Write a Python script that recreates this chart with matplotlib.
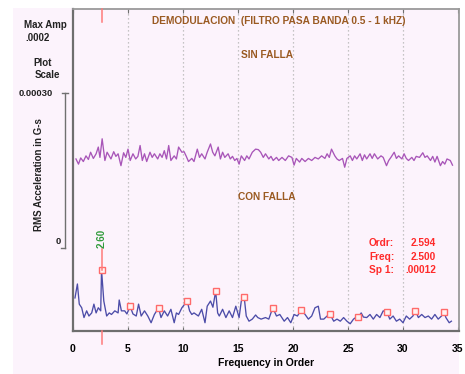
import matplotlib
matplotlib.use("Agg")
import matplotlib.pyplot as plt
from matplotlib.patches import Rectangle
from matplotlib.lines import Line2D

plt.rcParams['font.family'] = ['Liberation Sans', 'DejaVu Sans']

W, H = 465, 374

# ---------------- data ----------------
# SIN FALLA trace (order, amplitude in micro G-s above its plot offset)
order_sin = [0.27, 0.5, 0.7, 0.94, 1.18, 1.4, 1.6, 1.85, 2.1, 2.3,
             2.45, 2.65, 2.9, 3.1, 3.45, 3.7, 3.9, 4.1, 4.36, 4.6,
             4.8, 5.0, 5.2, 5.45, 5.7, 5.9, 6.1, 6.3, 6.5, 6.7,
             7.0, 7.2, 7.4, 7.7, 7.9, 8.1, 8.3, 8.5, 8.7, 8.9,
             9.2, 9.4, 9.6, 9.9, 10.1, 10.3, 10.5, 10.8, 11.0, 11.3,
             11.5, 11.7, 12.0, 12.2, 12.5, 12.7, 12.9, 13.2, 13.4, 13.6,
             13.8, 14.1, 14.3, 14.5, 14.7, 14.9, 15.1, 15.3, 15.6, 15.8,
             16.0, 16.3, 16.6, 16.85, 17.06, 17.3, 17.5, 17.8, 18.0, 18.2,
             18.5, 18.7, 19.0, 19.3, 19.6, 19.9, 20.1, 20.3, 20.6, 20.8,
             21.1, 21.4, 21.7, 22.0, 22.3, 22.6, 22.9, 23.1, 23.3, 23.5,
             23.8, 24.0, 24.2, 24.5, 24.7, 24.9, 25.2, 25.4, 25.6, 25.8,
             26.1, 26.3, 26.5, 26.7, 27.0, 27.2, 27.4, 27.7, 28.0, 28.2,
             28.5, 28.7, 28.9, 29.2, 29.4, 29.6, 29.9, 30.1, 30.3, 30.5,
             30.8, 31.0, 31.2, 31.5, 31.8, 32.0, 32.2, 32.5, 32.7, 32.9,
             33.1, 33.4, 33.6, 33.8, 34.0, 34.3, 34.5]
amp_sin_ug = [33, 23, 35, 28, 39, 32, 46, 34, 43, 56,
              36, 72, 30, 46, 33, 47, 38, 43, 20, 45,
              36, 52, 30, 43, 33, 38, 59, 30, 43, 28,
              46, 36, 43, 33, 43, 36, 49, 33, 59, 30,
              39, 33, 56, 46, 47, 38, 28, 34, 28, 52,
              36, 43, 33, 46, 62, 46, 39, 56, 33, 46,
              36, 43, 33, 38, 30, 34, 23, 39, 30, 39,
              33, 46, 52, 51, 46, 36, 43, 33, 38, 30,
              36, 30, 36, 30, 39, 36, 21, 34, 27, 34,
              28, 34, 30, 36, 33, 39, 34, 43, 36, 52,
              39, 33, 30, 34, 17, 34, 39, 30, 39, 33,
              43, 30, 41, 33, 43, 34, 43, 33, 39, 36,
              20, 30, 36, 46, 34, 39, 33, 43, 34, 30,
              36, 30, 38, 36, 45, 36, 39, 30, 38, 27,
              38, 20, 28, 23, 33, 30, 21]
sin_offset = 0.00030

# CON FALLA trace (order, amplitude in micro G-s)
order_con = [0.18, 0.4, 0.57, 0.79, 1.0, 1.24, 1.45, 1.7, 1.9, 2.1,
             2.3, 2.52, 2.594, 2.8, 3.06, 3.3, 3.5, 3.8, 4.1, 4.2,
             4.4, 4.7, 4.9, 5.19, 5.45, 5.75, 5.96, 6.2, 6.5, 6.8,
             7.1, 7.4, 7.78, 8.0, 8.3, 8.6, 8.9, 9.2, 9.4, 9.6,
             9.9, 10.38, 10.6, 10.8, 11.0, 11.4, 11.7, 12.0, 12.2, 12.5,
             12.72, 12.97, 13.15, 13.3, 13.6, 13.9, 14.2, 14.5, 14.8, 15.1,
             15.3, 15.56, 15.75, 16.0, 16.3, 16.6, 16.8, 17.1, 17.5, 17.8,
             18.0, 18.16, 18.5, 18.8, 19.2, 19.5, 19.8, 20.1, 20.4, 20.75,
             21.1, 21.4, 21.7, 22.0, 22.3, 22.5, 22.8, 23.1, 23.35, 23.7,
             24.0, 24.3, 24.6, 24.9, 25.2, 25.5, 25.7, 25.94, 26.2, 26.4,
             26.7, 27.0, 27.3, 27.6, 27.9, 28.2, 28.53, 28.8, 29.1, 29.4,
             29.7, 30.0, 30.3, 30.6, 30.9, 31.13, 31.4, 31.7, 32.0, 32.3,
             32.6, 32.9, 33.2, 33.5, 33.72, 33.9, 34.2, 34.4]
amp_con_ug = [64, 91, 52, 45, 26, 39, 29, 35, 52, 35,
              45, 39, 118, 58, 29, 35, 32, 39, 35, 60,
              39, 39, 33, 48, 33, 29, 52, 29, 39, 29,
              16, 32, 45, 26, 39, 29, 42, 16, 35, 32,
              45, 58, 39, 32, 35, 29, 42, 16, 48, 58,
              46, 77, 35, 29, 42, 26, 39, 26, 48, 26,
              58, 66, 29, 19, 23, 31, 26, 23, 26, 23,
              35, 45, 29, 32, 19, 26, 16, 32, 29, 41,
              32, 23, 29, 45, 48, 23, 23, 29, 33, 19,
              23, 19, 26, 19, 14, 23, 26, 27, 35, 27,
              26, 32, 23, 32, 26, 39, 37, 23, 29, 19,
              23, 16, 29, 23, 29, 39, 26, 32, 26, 29,
              23, 32, 23, 29, 37, 26, 16, 19]

# harmonic markers of 2.594 order
harm_order = [2.594, 5.19, 7.78, 10.38, 12.97, 15.56, 18.16, 20.75,
              23.35, 25.94, 28.53, 31.13, 33.72]
harm_amp_ug = [118, 48, 45, 58, 77, 66, 45, 41, 33, 27, 37, 39, 37]

cursor_order = 2.594
cursor_label = "2.60"
xticks = [0, 5, 10, 15, 20, 25, 30, 35]
xtick_labels = ["0", "5", "10", "15", "20", "25", "30", "35"]
readout_names = ["Ordr:", "Freq:", "Sp 1:"]
readout_values = ["2.594", "2.500", ".00012"]

# ---------------- figure ----------------
PINK = '#fcf3fc'
fig = plt.figure(figsize=(W / 100, H / 100), dpi=100, facecolor='white')


def fxy(px, py):
    return px / W, 1 - py / H


bg = Rectangle(fxy(13, 374), (459 - 13) / W, (374 - 8) / H,
               transform=fig.transFigure, facecolor=PINK,
               edgecolor='none', zorder=-10)
fig.patches.append(bg)

ax_l, ax_r, ax_t, ax_b = 73, 459, 9, 331
ax = fig.add_axes([ax_l / W, 1 - ax_b / H, (ax_r - ax_l) / W, (ax_b - ax_t) / H])
ax.set_zorder(1)
ax.set_facecolor(PINK)

upp = 0.00030 / 155.0  # G-s per pixel
ax.set_xlim(0, (ax_r - ax_l) / 11.0)
ax.set_ylim(0, (ax_b - ax_t) * upp)

sin_vals = [sin_offset + a * 1e-6 for a in amp_sin_ug]
con_vals = [a * 1e-6 for a in amp_con_ug]
harm_vals = [a * 1e-6 for a in harm_amp_ug]

ax.plot(order_sin, sin_vals, color='#a855b8', lw=0.95, zorder=3)
ax.plot(order_con, con_vals, color='#4c4ca8', lw=0.95, zorder=3)
ax.plot(harm_order, harm_vals, linestyle='none', marker='s', ms=4.3,
        mfc='#fff2f2', mec='#ff6a6a', mew=1.0, zorder=4)

# grid
for xv in xticks[1:-1]:
    ax.axvline(xv, color='#b4b4b4', lw=0.9, linestyle=(0, (1, 2.2)), zorder=1)

ax.set_xticks(xticks)
ax.set_xticklabels(xtick_labels)
ax.set_yticks([])
ax.tick_params(axis='x', direction='in', length=3, color='#707070',
               labelsize=7.5, pad=9, top=True)
for lab in ax.get_xticklabels():
    lab.set_fontweight('bold')
ax.set_xlabel("Frequency in Order", fontsize=7.5, fontweight='bold', labelpad=3)

for s in ['left', 'bottom']:
    ax.spines[s].set_color('#6e6e6e')
    ax.spines[s].set_linewidth(1.6)
for s in ['top', 'right']:
    ax.spines[s].set_color('#9a9a9a')
    ax.spines[s].set_linewidth(1.3)

# cursor
top_y = ax.get_ylim()[1]
ax.plot([cursor_order, cursor_order], [top_y, (ax_b - 22) * upp],
        color='#ff7a7a', lw=1.1, zorder=5, clip_on=False)
ax.plot([cursor_order, cursor_order], [(ax_b - 249) * upp, harm_vals[0]],
        color='#ff7a7a', lw=1.1, zorder=5)
ax.plot([cursor_order, cursor_order], [0, -13 * upp],
        color='#ff7a7a', lw=1.1, zorder=5, clip_on=False)
ax.text(cursor_order, (ax_b - 238) * upp, cursor_label, rotation=90,
        ha='center', va='center', fontsize=7, fontweight='bold',
        color='#2f9a3a', zorder=6)

# titles inside
BROWN = '#9a5a22'
fig.text(*fxy(279, 21), "DEMODULACION  (FILTRO PASA BANDA 0.5 - 1 kHZ)",
         ha='center', va='center', fontsize=7.3, fontweight='bold', color=BROWN,
         zorder=5)
fig.text(*fxy(267, 55), "SIN FALLA", ha='center', va='center',
         fontsize=7.3, fontweight='bold', color=BROWN, zorder=5)
fig.text(*fxy(267, 197), "CON FALLA", ha='center', va='center',
         fontsize=7.3, fontweight='bold', color=BROWN, zorder=5)

# readout
RED = '#ff2a2a'
for i, (n, v) in enumerate(zip(readout_names, readout_values)):
    py = 243 + i * 13.7
    fig.text(*fxy(369, py), n, ha='left', va='center', fontsize=7.3,
             fontweight='bold', color=RED, zorder=5)
    fig.text(*fxy(436, py), v, ha='right', va='center', fontsize=7.3,
             fontweight='bold', color=RED, zorder=5)

# left panel
DARK = '#222222'
fig.text(*fxy(45, 25), "Max Amp", ha='center', va='center', fontsize=7,
         fontweight='bold', color=DARK)
fig.text(*fxy(25, 38), ".0002", ha='left', va='center', fontsize=7,
         fontweight='bold', color=DARK)
fig.text(*fxy(43, 63), "Plot", ha='center', va='center', fontsize=7,
         fontweight='bold', color=DARK)
fig.text(*fxy(47, 75), "Scale", ha='center', va='center', fontsize=7,
         fontweight='bold', color=DARK)
fig.text(*fxy(36, 94), "0.00030", ha='center', va='center', fontsize=6.8,
         fontweight='bold', color=DARK)
fig.text(*fxy(58, 242), "0", ha='center', va='center', fontsize=6.8,
         fontweight='bold', color=DARK)
fig.text(*fxy(39, 175), "RMS Acceleration in G-s", rotation=90,
         ha='center', va='center', fontsize=7, fontweight='bold', color=DARK)

x0, y0 = fxy(65, 93)
x1, y1 = fxy(65, 248)
fig.lines.append(Line2D([x0, x1], [y0, y1], transform=fig.transFigure,
                        color='#707070', lw=1.0))
fig.lines.append(Line2D([fxy(62, 0)[0], fxy(68, 0)[0]], [y0, y0],
                        transform=fig.transFigure, color='#707070', lw=1.0))
fig.lines.append(Line2D([fxy(61, 0)[0], fxy(65, 0)[0]], [y1, y1],
                        transform=fig.transFigure, color='#707070', lw=1.0))

fig.savefig("out.png", dpi=100, facecolor=fig.get_facecolor())
